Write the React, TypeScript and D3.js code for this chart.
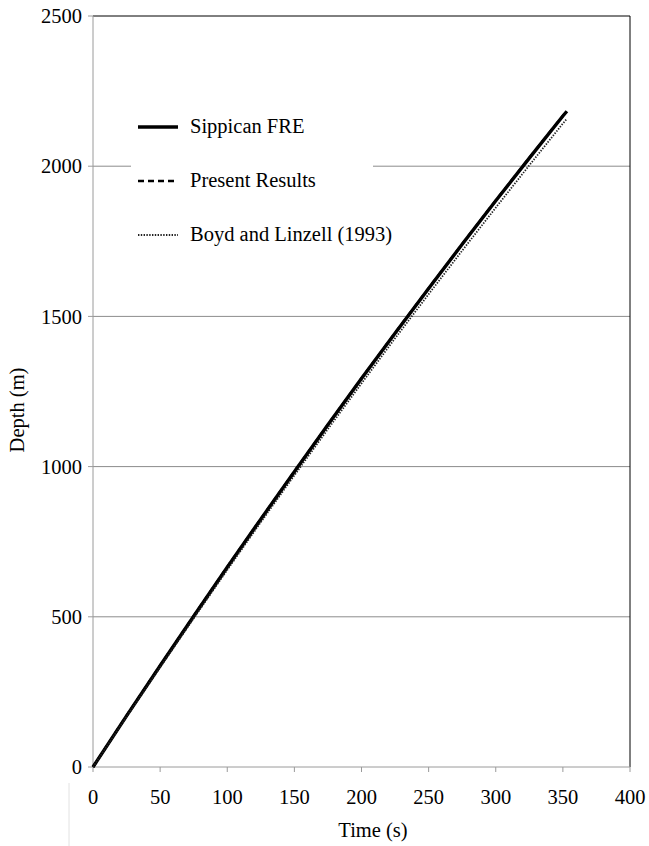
import React from "react";
import * as d3 from "d3";

const time = [0, 25, 50, 75, 100, 125, 150, 175, 200, 225, 250, 275, 300, 325, 350, 353];
const sippican = [0, 170, 337, 502, 665, 825, 983, 1139, 1293, 1444, 1593, 1740, 1885, 2027, 2167, 2183];
const present = [0, 171, 338, 503, 666, 826, 984, 1140, 1294, 1445, 1594, 1741, 1886, 2028, 2168, 2184];
const boyd = [0, 167, 332, 495, 656, 815, 971, 1125, 1277, 1427, 1574, 1719, 1862, 2003, 2142, 2158];
const xTicks = [0, 50, 100, 150, 200, 250, 300, 350, 400];
const yTicks = [0, 500, 1000, 1500, 2000, 2500];
const legendLabels = ["Sippican FRE", "Present Results", "Boyd and Linzell (1993)"];

const W = 649, H = 846;
const L = 93, R = 630, T = 16, B = 767;
const font = "'Liberation Serif', 'Times New Roman', serif";
const FS = 20.5;

export default function App() {
  const x = d3.scaleLinear().domain([0, 400]).range([L, R]);
  const y = d3.scaleLinear().domain([0, 2500]).range([B, T]);
  const line = (vals: number[]) =>
    d3.line<number>().x((_, i) => x(time[i])).y((d) => y(d))(vals) || "";

  const styles = [
    { w: 3.4, dash: "none", color: "#000" },
    { w: 2.4, dash: "6,4", color: "#000" },
    { w: 1.8, dash: "1.4,1.4", color: "#222" },
  ];
  const series = [sippican, present, boyd];

  return (
    <svg width={W} height={H} style={{ position: "absolute", left: 0, top: 0, background: "#fff" }}>
      <rect x={0} y={0} width={W} height={H} fill="#fff" />
      {yTicks.filter((v) => v > 0 && v < 2500).map((v) => (
        <line key={"g" + v} x1={L} x2={R} y1={y(v)} y2={y(v)} stroke="#8c8c8c" strokeWidth={1} />
      ))}
      <line x1={L} x2={R} y1={T} y2={T} stroke="#000" strokeWidth={1} />
      <line x1={R} x2={R} y1={T} y2={B} stroke="#000" strokeWidth={1} />
      <line x1={L} x2={L} y1={T} y2={B} stroke="#9a9a9a" strokeWidth={1} />
      <line x1={L} x2={R} y1={B} y2={B} stroke="#9a9a9a" strokeWidth={1} />
      {yTicks.map((v) => (
        <g key={"y" + v}>
          <line x1={L - 5} x2={L} y1={y(v)} y2={y(v)} stroke="#9a9a9a" />
          <text x={L - 11} y={y(v)} dy="0.35em" textAnchor="end" fontFamily={font} fontSize={FS} fill="#000">
            {v}
          </text>
        </g>
      ))}
      {xTicks.map((v) => (
        <g key={"x" + v}>
          <line x1={x(v)} x2={x(v)} y1={B} y2={B + 5} stroke="#9a9a9a" />
          <text x={x(v)} y={B + 37} textAnchor="middle" fontFamily={font} fontSize={FS} fill="#000">
            {v}
          </text>
        </g>
      ))}
      <line x1={69} x2={69} y1={783} y2={846} stroke="#e2e2e2" />
      <text x={373} y={837} textAnchor="middle" fontFamily={font} fontSize={FS} fill="#000">
        Time (s)
      </text>
      <text transform={`translate(24,${410}) rotate(-90)`} textAnchor="middle" fontFamily={font} fontSize={FS} fill="#000">
        Depth (m)
      </text>
      <rect x={131} y={100} width={242} height={160} fill="#fff" />
      {legendLabels.map((lab, i) => {
        const ly = 127 + i * 54;
        const s = styles[i];
        return (
          <g key={lab}>
            <line x1={138} x2={178} y1={ly} y2={ly} stroke={s.color} strokeWidth={s.w} strokeDasharray={s.dash} />
            <text x={190} y={ly} dy="0.3em" fontFamily={font} fontSize={FS} fill="#000">
              {lab}
            </text>
          </g>
        );
      })}
      {series.map((vals, i) => {
        const s = styles[i];
        return (
          <path key={"s" + i} d={line(vals)} fill="none" stroke={s.color} strokeWidth={s.w} strokeDasharray={s.dash} />
        );
      })}
    </svg>
  );
}
